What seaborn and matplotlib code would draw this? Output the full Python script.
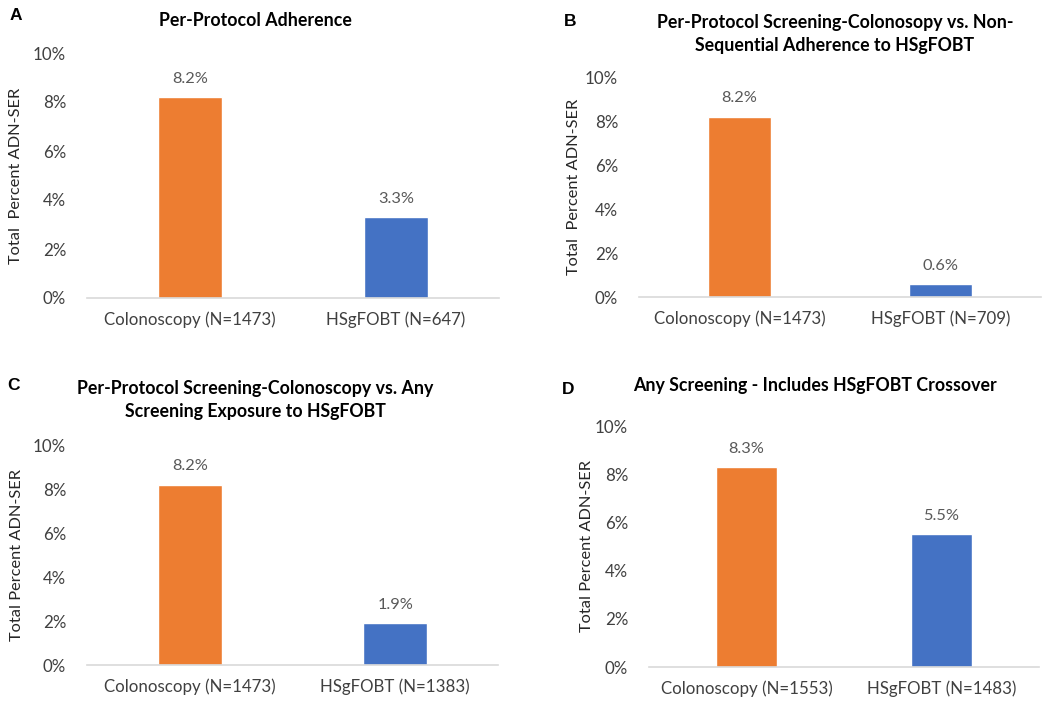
import matplotlib
matplotlib.use("Agg")
import matplotlib.pyplot as plt
import seaborn as sns
import pandas as pd
from matplotlib.ticker import FuncFormatter

# Data
panel_letters = ["A", "B", "C", "D"]
titles = [
    "Per-Protocol Adherence",
    "Per-Protocol Screening-Colonosopy vs. Non-\nSequential Adherence to HSgFOBT",
    "Per-Protocol Screening-Colonoscopy vs. Any\nScreening Exposure to HSgFOBT",
    "Any Screening - Includes HSgFOBT Crossover",
]
ylabels = [
    "Total  Percent ADN-SER",
    "Total  Percent ADN-SER",
    "Total Percent ADN-SER",
    "Total Percent ADN-SER",
]
cats_A = ["Colonoscopy (N=1473)", "HSgFOBT (N=647)"]
cats_B = ["Colonoscopy (N=1473)", "HSgFOBT (N=709)"]
cats_C = ["Colonoscopy (N=1473)", "HSgFOBT (N=1383)"]
cats_D = ["Colonoscopy (N=1553)", "HSgFOBT (N=1483)"]
vals_A = [8.2, 3.3]
vals_B = [8.2, 0.6]
vals_C = [8.2, 1.9]
vals_D = [8.3, 5.5]
yticks = [0, 2, 4, 6, 8, 10]
colors = ["#ED7D31", "#4472C4"]

sns.set_theme(style="white")
plt.rcParams["font.family"] = ["Lato", "DejaVu Sans"]

W, H = 1050, 706
fig = plt.figure(figsize=(W / 100, H / 100), dpi=100)

# pixel boxes: left, right, top(10%), bottom(0%)
boxes = [
    (87, 499, 53, 298),
    (639, 1041, 77, 297),
    (87, 498, 445, 665),
    (649, 1039, 426, 667),
]
letter_pos = [(16, 16), (570, 21), (13, 385), (568, 389)]
title_pos = [(255, 20), (835, 34), (255, 400), (815, 385)]
ylabel_x = [16, 574, 17, 587]

cats_all = [cats_A, cats_B, cats_C, cats_D]
vals_all = [vals_A, vals_B, vals_C, vals_D]

FS = 11.8

for i in range(4):
    l, r, t, b = boxes[i]
    ax = fig.add_axes([l / W, (H - b) / H, (r - l) / W, (b - t) / H])
    df = pd.DataFrame({"cat": cats_all[i], "val": vals_all[i]})
    sns.barplot(data=df, x="cat", y="val", hue="cat", palette=colors,
                width=0.31, ax=ax, legend=False, saturation=1)
    ax.set_ylim(0, 10)
    ax.set_xlim(-0.5, 1.5)
    ax.set_yticks(yticks)
    ax.yaxis.set_major_formatter(FuncFormatter(lambda v, p: f"{v:.0f}%"))
    ax.tick_params(axis="both", length=0, labelsize=FS + 0.4, colors="#404040")
    ax.tick_params(axis="y", pad=15)
    ax.tick_params(axis="x", pad=10)
    for s in ["top", "right", "left"]:
        ax.spines[s].set_visible(False)
    ax.spines["bottom"].set_color("#D9D9D9")
    ax.spines["bottom"].set_linewidth(1.2)
    ax.set_xlabel("")
    ax.set_ylabel("")
    for cont in ax.containers:
        ax.bar_label(cont, fmt="%.1f%%", padding=8, fontsize=FS, color="#595959")
    # y label
    fig.text(ylabel_x[i] / W, 1 - ((t + b) / 2) / H, ylabels[i], rotation=90,
             ha="center", va="center", fontsize=FS, color="#262626")
    # title
    tx, ty = title_pos[i]
    fig.text(tx / W, 1 - ty / H, titles[i], ha="center", va="center",
             fontsize=12.8, fontweight="bold", color="#000000", linespacing=1.4)
    lx, ly = letter_pos[i]
    fig.text(lx / W, 1 - ly / H, panel_letters[i], ha="center", va="center",
             fontsize=12.5, fontweight="bold", color="#000000",
             family=["Liberation Sans", "DejaVu Sans"])

fig.savefig("out.png", dpi=100, facecolor="white")
